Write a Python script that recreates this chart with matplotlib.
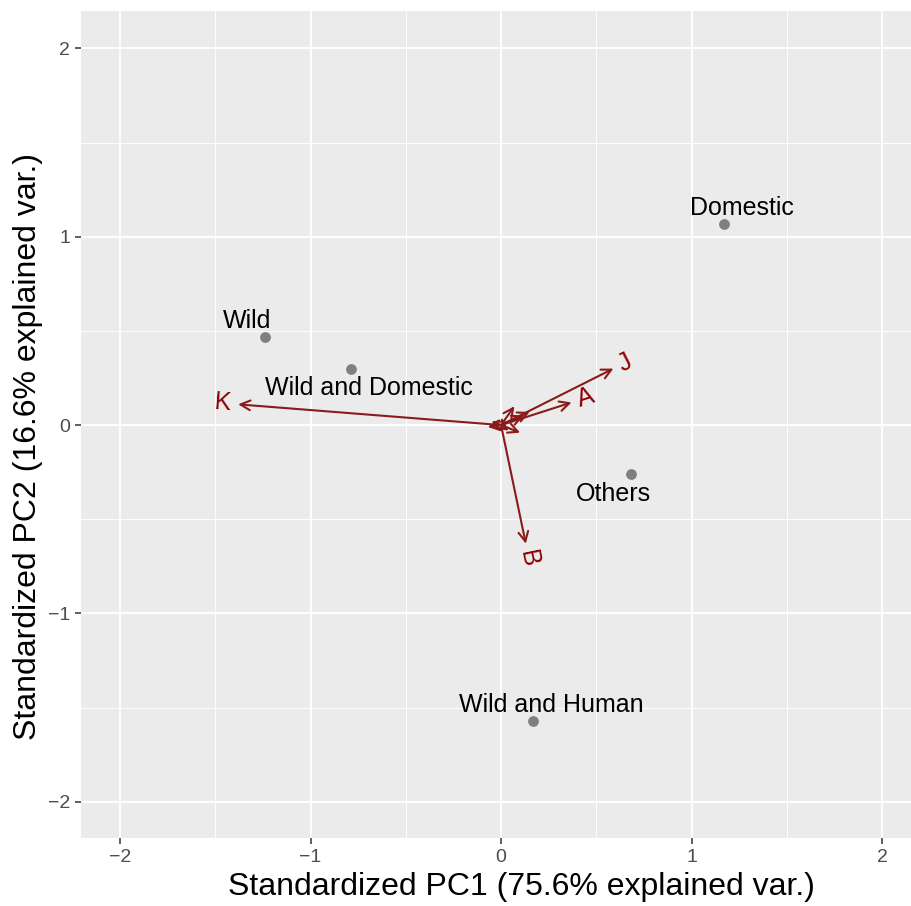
import matplotlib
matplotlib.use("Agg")
import matplotlib.pyplot as plt
import numpy as np

# --- data ---
groups = ["Domestic", "Wild", "Wild and Domestic", "Others", "Wild and Human"]
pc1 = [1.17, -1.24, -0.79, 0.68, 0.17]
pc2 = [1.07, 0.47, 0.30, -0.26, -1.57]

var_names = ["K", "J", "A", "B"]
var_x = [-1.38, 0.59, 0.37, 0.13]
var_y = [0.11, 0.30, 0.12, -0.63]

minor_var_x = [0.07, 0.15, 0.10, -0.07, 0.04, -0.05, 0.12]
minor_var_y = [0.10, 0.07, -0.04, -0.01, -0.03, 0.02, 0.05]

xticks = [-2, -1, 0, 1, 2]
yticks = [-2, -1, 0, 1, 2]

# label offsets in points (style)
label_offsets = [(13, 2.5), (-12.5, 2.5), (13, -5.5), (-12, -5.5), (13, 2.5)]
label_va = ["bottom", "bottom", "top", "top", "bottom"]

plt.rcParams['font.family'] = ['Liberation Sans', 'DejaVu Sans']

fig = plt.figure(figsize=(9.12, 9.06), dpi=100)
ax = fig.add_axes([81/912, (906-838)/906, (911-81)/912, (838-11)/906])
ax.set_facecolor("#EBEBEB")
ax.set_xlim(-2.205, 2.152)
ax.set_ylim(-2.193, 2.199)

# grid
for v in np.arange(-2.0, 2.01, 0.5):
    major = float(v).is_integer()
    lw = 1.3 if major else 0.65
    ax.axvline(v, color="white", lw=lw, zorder=0)
    ax.axhline(v, color="white", lw=lw, zorder=0)

for s in ax.spines.values():
    s.set_visible(False)

ax.set_xticks(xticks)
ax.set_yticks(yticks)
ax.set_xticklabels(["\u22122", "\u22121", "0", "1", "2"])
ax.set_yticklabels(["\u22122", "\u22121", "0", "1", "2"])
ax.tick_params(axis="both", colors="#333333", labelcolor="#4D4D4D", labelsize=14,
               length=4, width=1.1, pad=4)

# points
ax.scatter(pc1, pc2, s=60, color="#7F7F7F", zorder=3, linewidths=0)
for name, x, y, off, va in zip(groups, pc1, pc2, label_offsets, label_va):
    ax.annotate(name, (x, y), xytext=off, textcoords="offset points",
                ha="center", va=va, fontsize=18, color="black", zorder=4)

arrow_color = "#8B1A1A"
aprops = dict(arrowstyle="->,head_length=0.7,head_width=0.35",
              color=arrow_color, lw=1.5, shrinkA=0, shrinkB=0)
# minor arrows
for x, y in zip(minor_var_x, minor_var_y):
    ax.annotate("", xy=(x, y), xytext=(0, 0), arrowprops=aprops, zorder=2)
# labelled arrows
for name, x, y in zip(var_names, var_x, var_y):
    ax.annotate("", xy=(x, y), xytext=(0, 0), arrowprops=aprops, zorder=2)
    ang = np.degrees(np.arctan(y / x))
    ha = "left" if x > 0 else "right"
    d = 0.035
    r = np.hypot(x, y)
    lx, ly = x + d * x / r, y + d * y / r
    ax.text(lx, ly, name, rotation=ang, rotation_mode="anchor", ha=ha, va="center",
            fontsize=18, color="#8B0000", zorder=4)

ax.set_xlabel("Standardized PC1 (75.6% explained var.)", fontsize=23, color="black", labelpad=4)
ax.set_ylabel("Standardized PC2 (16.6% explained var.)", fontsize=23, color="black", labelpad=3)
ax.xaxis.label.set_x(0.531)
ax.yaxis.label.set_y(0.473)

fig.savefig("out.png", dpi=100)
